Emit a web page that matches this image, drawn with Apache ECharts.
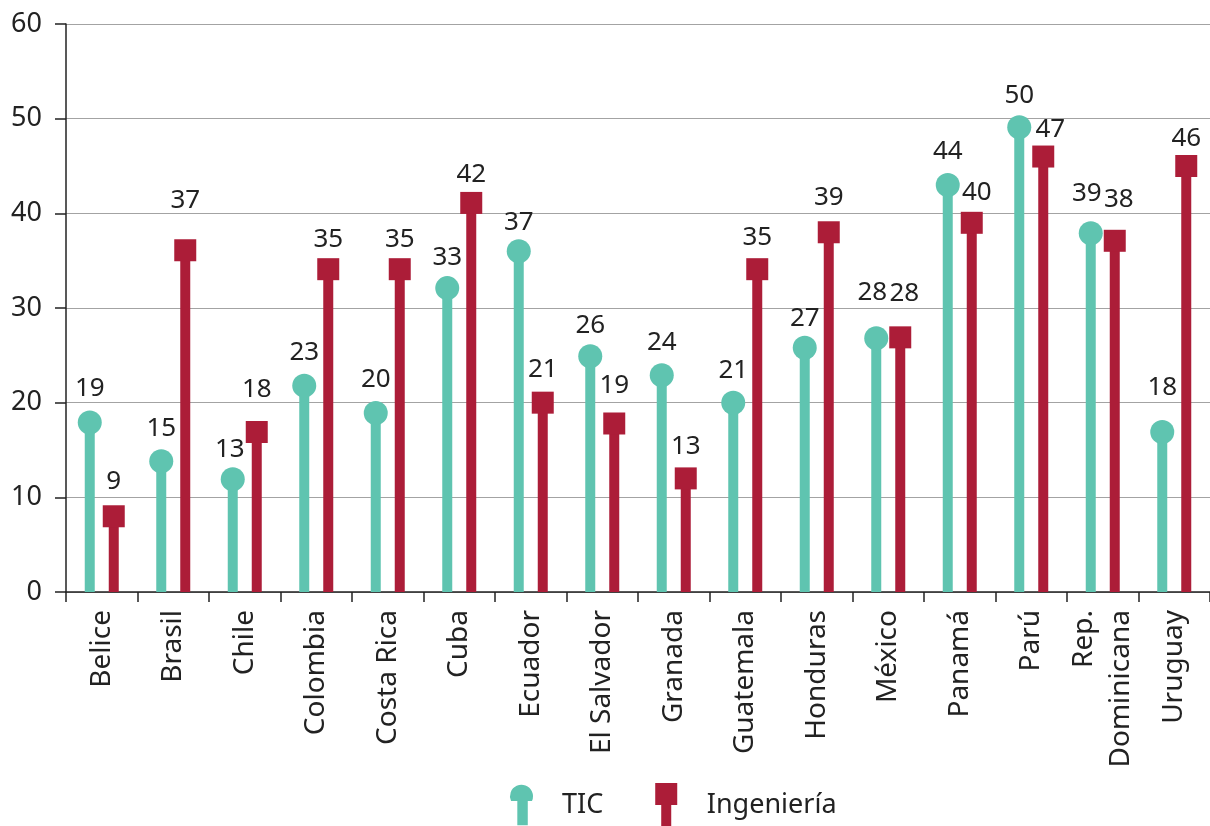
<!DOCTYPE html>
<html>
<head>
<meta charset="utf-8">
<script src="https://cdn.jsdelivr.net/npm/echarts@6/dist/echarts.min.js"></script>
<style>
html,body{margin:0;padding:0;background:#fff;}
#chart{width:1210px;height:826px;}
</style>
</head>
<body>
<div id="chart"></div>
<script>
// ---- data ----
const categories = ['Belice','Brasil','Chile','Colombia','Costa Rica','Cuba','Ecuador','El Salvador','Granada','Guatemala','Honduras','México','Panamá','Parú','Rep.\nDominicana','Uruguay'];
const seriesNames = ['TIC','Ingeniería'];
// marker heights as drawn in the picture
const ticValues = [17.9,13.8,11.9,21.8,18.9,32.1,36.0,24.9,22.9,20.0,25.8,26.8,43.0,49.1,37.9,16.9];
const ingValues = [8.0,36.1,16.9,34.1,34.1,41.1,20.0,17.8,12.0,34.1,38.0,26.9,39.0,46.0,37.1,45.0];
// printed labels
const ticLabels = [19,15,13,23,20,33,37,26,24,21,27,28,44,50,39,18];
const ingLabels = [9,37,18,35,35,42,21,19,13,35,39,28,40,47,38,46];
const yTicks = [0,10,20,30,40,50,60];

// ---- layout tweaks for label placement (px) ----
const ticLabelRise = [34,33,30,33,33,31,29,31,33,32,29,46,33,32,40,44];
const ticLabelShift = [0,0,-3,0,0,0,0,0,0,0,0,-4,0,0,-4,0];
const ingLabelRise = [35,50,42,30,30,28,33,38,32,32,35,44,30,27,41,27];
const ingLabelShift = [0,0,0,0,0,0,0,0,0,0,0,4,5,7,4,0];

const TEAL = '#5fc4b0';
const RED = '#ac1d38';
const FONT = '"Noto Sans", sans-serif';
const TXT = '#222222';

const chart = echarts.init(document.getElementById('chart'), null, {renderer:'canvas'});

const circleIcon = 'path://M1,20.8 A11,11 0 1,1 21,20.8 L17,20.8 L17,44 L7,44 L7,20.8 Z';
const squareIcon = 'path://M0,0 L22,0 L22,22 L16,22 L16,44 L6,44 L6,22 L0,22 Z';

function mk(vals, labels, rise, shift) {
  return vals.map((v, i) => ({
    value: v,
    label: { offset: [shift[i], -rise[i]], formatter: String(labels[i]) }
  }));
}

const option = {
  animation: false,
  backgroundColor: '#ffffff',
  grid: { left: 66, right: 0, top: 24, bottom: 234, containLabel: false },
  legend: {
    left: 510, top: 783, padding: 0,
    itemWidth: 23, itemHeight: 44, itemGap: 52,
    selectedMode: false,
    textStyle: { fontFamily: FONT, fontSize: 27, color: TXT, padding: [0,0,0,24] },
    data: [
      { name: seriesNames[0], icon: circleIcon, itemStyle: { color: TEAL } },
      { name: seriesNames[1], icon: squareIcon, itemStyle: { color: RED } }
    ]
  },
  xAxis: {
    type: 'category',
    data: categories,
    boundaryGap: true,
    axisLine: { show: true, lineStyle: { color: '#222', width: 1.5 } },
    axisTick: { show: true, length: 10, lineStyle: { color: '#222', width: 1.5 } },
    axisLabel: { rotate: 90, margin: 18, fontFamily: FONT, fontSize: 28, color: TXT, lineHeight: 37, interval: 0 }
  },
  yAxis: {
    type: 'value', min: yTicks[0], max: yTicks[yTicks.length-1], interval: 10,
    axisLine: { show: true, lineStyle: { color: '#222', width: 1.5 } },
    axisTick: { show: true, length: 11, lineStyle: { color: '#222', width: 1.5 } },
    axisLabel: { margin: 24, fontFamily: FONT, fontSize: 27, color: TXT },
    splitLine: { show: true, lineStyle: { color: '#a3a3a3', width: 1.2 } }
  },
  series: [
    { name: seriesNames[0], type: 'bar', data: ticValues, barWidth: 10, barGap: '140%',
      itemStyle: { color: TEAL }, silent: true },
    { name: seriesNames[1], type: 'bar', data: ingValues, barWidth: 10,
      itemStyle: { color: RED }, silent: true },
    { name: seriesNames[0], type: 'scatter', data: mk(ticValues, ticLabels, ticLabelRise, ticLabelShift),
      symbol: 'circle', symbolSize: 24, symbolOffset: [-12, 0], itemStyle: { color: TEAL, opacity: 1 }, z: 3,
      label: { show: true, position: 'inside', fontFamily: FONT, fontSize: 26, color: TXT } },
    { name: seriesNames[1], type: 'scatter', data: mk(ingValues, ingLabels, ingLabelRise, ingLabelShift),
      symbol: 'rect', symbolSize: 22, symbolOffset: [12, 0], itemStyle: { color: RED, opacity: 1 }, z: 3,
      label: { show: true, position: 'inside', fontFamily: FONT, fontSize: 26, color: TXT } }
  ]
};
chart.setOption(option);
</script>
</body>
</html>
